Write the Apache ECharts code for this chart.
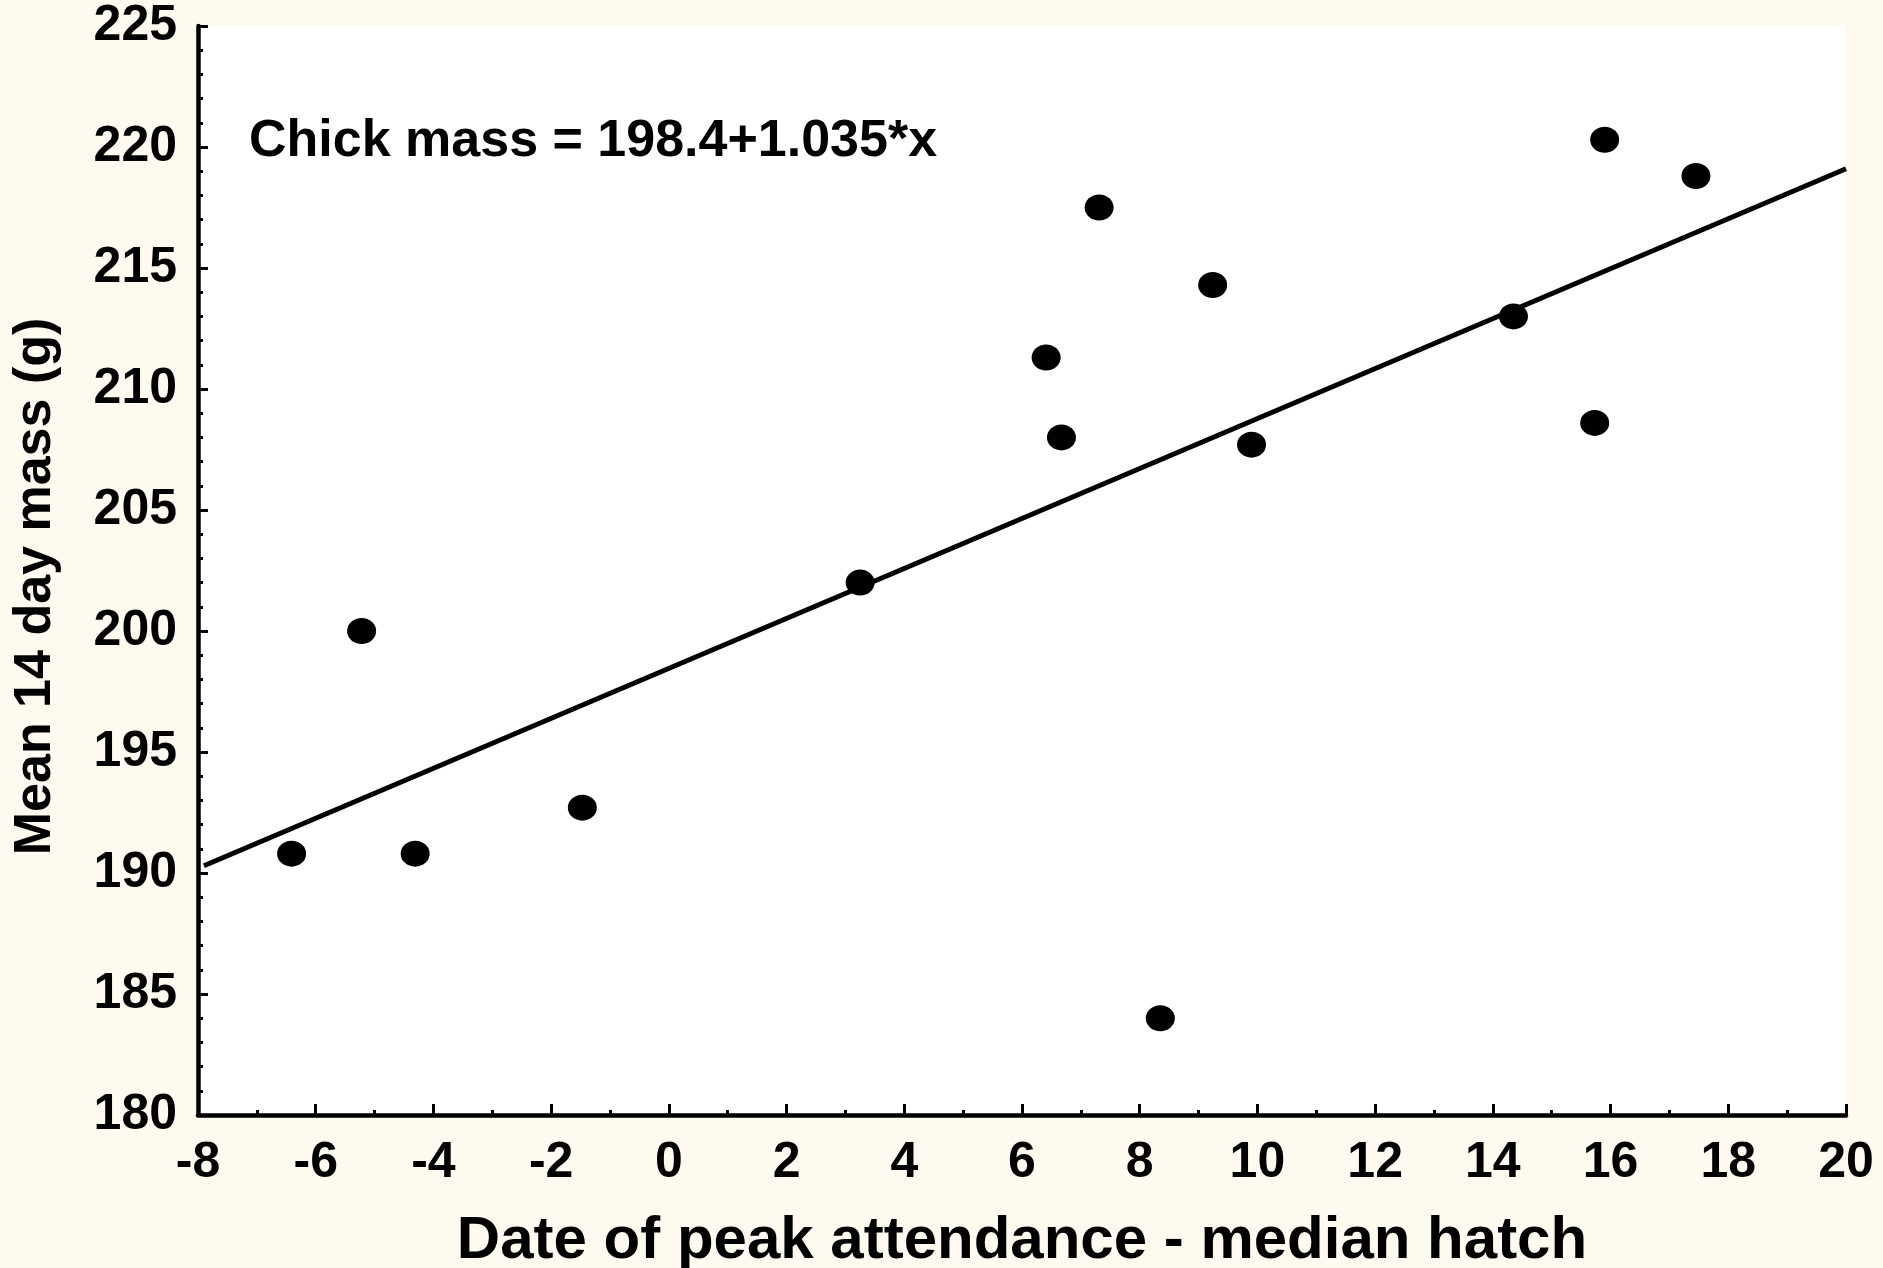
<!DOCTYPE html>
<html>
<head>
<meta charset="utf-8">
<script src="https://cdn.jsdelivr.net/npm/echarts@6/dist/echarts.min.js"></script>
<style>
html,body{margin:0;padding:0;background:#FFFAF0;}
#chart{width:1883px;height:1268px;}
</style>
</head>
<body>
<div id="chart"></div>
<script>
// Data
const xValues = [-6.41, -5.22, -4.31, -1.47, 3.25, 6.41, 6.67, 7.31, 8.35, 9.24, 9.90, 14.35, 15.73, 15.90, 17.45];
const yValues = [190.8, 200.0, 190.8, 192.7, 202.0, 211.3, 208.0, 217.5, 184.0, 214.3, 207.7, 213.0, 208.6, 220.3, 218.8];
const fitLineX = [-7.9, 20];
const fitLineY = [190.3, 219.1];
const equationText = 'Chick mass = 198.4+1.035*x';
const xTitle = 'Date of peak attendance - median hatch';
const yTitle = 'Mean 14 day mass (g)';

const points = xValues.map((x, i) => [x, yValues[i]]);
const fitLine = fitLineX.map((x, i) => [x, fitLineY[i]]);

const font = '"Liberation Sans", Arial, sans-serif';
const chart = echarts.init(document.getElementById('chart'), null, {renderer: 'canvas'});
chart.setOption({
  backgroundColor: '#FFFAF0',
  animation: false,
  grid: {
    left: 198, top: 26, width: 1648, height: 1089,
    show: true, backgroundColor: '#ffffff', borderWidth: 0,
    containLabel: false, outerBoundsMode: 'none'
  },
  xAxis: {
    type: 'value', min: -8, max: 20, interval: 2,
    name: xTitle, nameLocation: 'middle', nameGap: 96,
    nameTextStyle: {fontFamily: font, fontWeight: 'bold', fontSize: 60, color: '#000'},
    axisLine: {show: true, onZero: false, lineStyle: {color: '#000', width: 4.5}},
    axisTick: {show: true, inside: true, length: 11, lineStyle: {color: '#000', width: 3}},
    minorTick: {show: true, splitNumber: 2, length: 5, lineStyle: {color: '#000', width: 3}},
    axisLabel: {fontFamily: font, fontWeight: 'bold', fontSize: 50, color: '#000', margin: 23},
    splitLine: {show: false}
  },
  yAxis: {
    type: 'value', min: 180, max: 225, interval: 5,
    name: yTitle, nameLocation: 'middle', nameGap: 136,
    nameTextStyle: {fontFamily: font, fontWeight: 'bold', fontSize: 52, color: '#000', padding: [0, 32, 0, 0]},
    axisLine: {show: true, onZero: false, lineStyle: {color: '#000', width: 4.5}},
    axisTick: {show: true, inside: true, length: 10, lineStyle: {color: '#000', width: 3}},
    minorTick: {show: true, splitNumber: 5, length: 5, lineStyle: {color: '#000', width: 3}},
    axisLabel: {fontFamily: font, fontWeight: 'bold', fontSize: 50, color: '#000', margin: 21},
    splitLine: {show: false}
  },
  graphic: [{
    type: 'text', left: 249, top: 116,
    style: {text: equationText, fontFamily: font, fontWeight: 'bold', fontSize: 52, fill: '#000'}
  }],
  series: [
    {
      type: 'line', data: fitLine, showSymbol: false, symbol: 'none',
      lineStyle: {color: '#000', width: 5}, z: 2
    },
    {
      type: 'scatter', data: points, symbol: 'circle', symbolSize: [29, 26],
      itemStyle: {color: '#000', opacity: 1}, z: 3
    }
  ]
});
</script>
</body>
</html>
